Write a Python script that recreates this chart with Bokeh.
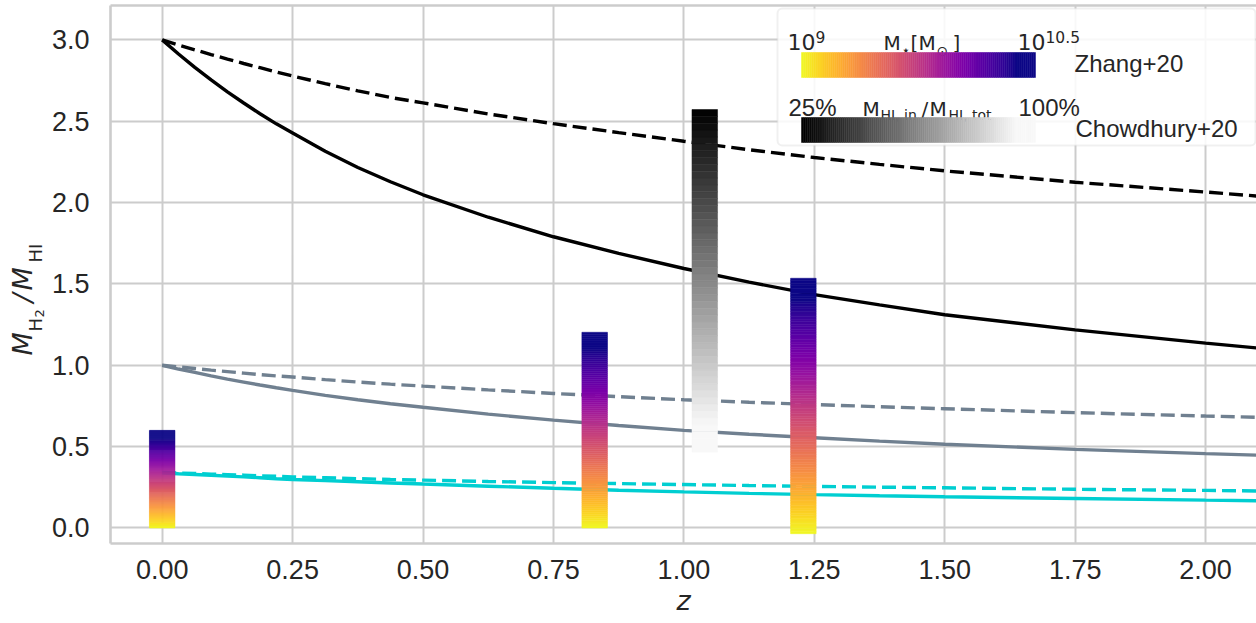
import numpy as np
from bokeh.plotting import figure
from bokeh.layouts import row
from bokeh.models import (Range1d, FixedTicker, CustomJSTickFormatter, LinearAxis,
                          Label, BoxAnnotation)
from bokeh.core.properties import value
from bokeh.palettes import Plasma256
from bokeh.embed import file_html
from bokeh.resources import INLINE

# ---------------- data ----------------
z_grid = [0.0, 0.03125, 0.0625, 0.09375, 0.125, 0.15625, 0.1875, 0.21875, 0.25,
          0.3125, 0.375, 0.4375, 0.5, 0.625, 0.75, 0.875, 1.0, 1.125, 1.25,
          1.375, 1.5, 1.75, 2.0, 2.12]
black_solid = [3.000, 2.913, 2.831, 2.754, 2.681, 2.612, 2.546, 2.484, 2.428,
               2.316, 2.216, 2.128, 2.048, 1.910, 1.790, 1.688, 1.595, 1.511, 1.434,
               1.371, 1.311, 1.218, 1.136, 1.100]
black_dashed = [3.000, 2.969, 2.939, 2.910, 2.882, 2.855, 2.829, 2.803, 2.778,
                2.731, 2.687, 2.646, 2.613, 2.545, 2.485, 2.430, 2.377, 2.325, 2.277,
                2.235, 2.195, 2.125, 2.065, 2.035]
gray_solid = [1.000, 0.977, 0.956, 0.935, 0.915, 0.897, 0.879, 0.862, 0.846,
              0.815, 0.788, 0.764, 0.742, 0.700, 0.663, 0.630, 0.600, 0.576, 0.555,
              0.534, 0.515, 0.483, 0.457, 0.446]
gray_dashed = [1.000, 0.990, 0.980, 0.970, 0.961, 0.952, 0.943, 0.935, 0.928,
               0.912, 0.897, 0.884, 0.872, 0.849, 0.827, 0.807, 0.788, 0.773, 0.759,
               0.745, 0.733, 0.709, 0.688, 0.679]
cyan_solid = [0.338, 0.333, 0.329, 0.324, 0.319, 0.314, 0.309, 0.303, 0.298,
              0.291, 0.284, 0.277, 0.270, 0.257, 0.244, 0.232, 0.222, 0.213, 0.205,
              0.198, 0.192, 0.181, 0.171, 0.167]
cyan_dashed = [0.342, 0.338, 0.335, 0.331, 0.328, 0.325, 0.321, 0.318, 0.314,
               0.309, 0.303, 0.298, 0.294, 0.286, 0.279, 0.273, 0.267, 0.261, 0.256,
               0.251, 0.247, 0.238, 0.231, 0.227]

zhang_z = [0.0, 0.829, 1.229]
zhang_lo = [0.0, 0.0, -0.035]
zhang_hi = [0.60, 1.203, 1.535]
chow_z = [1.040]
chow_lo = [0.466]
chow_hi = [2.572]
bar_w = 0.049

x_ticks = [0.0, 0.25, 0.5, 0.75, 1.0, 1.25, 1.5, 1.75, 2.0]
x_tick_labels = ["0.00", "0.25", "0.50", "0.75", "1.00", "1.25", "1.50", "1.75", "2.00"]
y_ticks = [0.0, 0.5, 1.0, 1.5, 2.0, 2.5, 3.0]
y_tick_labels = ["0.0", "0.5", "1.0", "1.5", "2.0", "2.5", "3.0"]

legend_names = ["Zhang+20", "Chowdhury+20"]
cbar1_ends = ["10", "9", "10", "10.5"]
cbar2_ends = ["25%", "100%"]

# ---------------- layout ----------------
YW = 48                     # width of the y-title strip
PH = 623
FL, FR, FT, FB = 110, 1256, 5, 543   # frame edges in page pixels
X0, X1 = -0.0991, 2.0976
Y0, Y1 = -0.0953, 3.2114
TEXT = "#262626"
GRID = "#cccccc"
MFONT = "DejaVu Sans"
TFONT = "Liberation Sans"
BSHIFT = 0.37   # baseline correction (in em) for text placement


def dx(px):
    return X0 + (px - FL) * (X1 - X0) / (FR - FL)


def dy(py):
    return Y0 + (FB - py) * (Y1 - Y0) / (FB - FT)


p = figure(frame_width=FR - FL, frame_height=FB - FT, output_backend="svg",
           toolbar_location=None,
           x_range=Range1d(X0, X1), y_range=Range1d(Y0, Y1),
           min_border_left=FL - YW, min_border_right=0,
           min_border_top=FT, min_border_bottom=PH - FB)
p.background_fill_color = "white"
p.border_fill_color = "white"
p.outline_line_color = None

for ax in (p.xaxis[0], p.yaxis[0]):
    ax.axis_line_color = GRID
    ax.axis_line_width = 2.6
    ax.major_tick_line_color = None
    ax.minor_tick_line_color = None
    ax.major_tick_out = 0
    ax.major_tick_in = 0
    ax.minor_tick_out = 0
    ax.major_label_text_font = TFONT
    ax.major_label_text_font_size = "27px"
    ax.major_label_text_color = TEXT

p.xaxis.ticker = FixedTicker(ticks=x_ticks)
p.yaxis.ticker = FixedTicker(ticks=y_ticks)
p.xaxis.formatter = CustomJSTickFormatter(args=dict(t=x_ticks, l=x_tick_labels),
    code="const i = t.indexOf(tick); return i >= 0 ? l[i] : tick.toFixed(2);")
p.yaxis.formatter = CustomJSTickFormatter(args=dict(t=y_ticks, l=y_tick_labels),
    code="const i = t.indexOf(tick); return i >= 0 ? l[i] : tick.toFixed(1);")
p.xaxis.major_label_standoff = 16
p.yaxis.major_label_standoff = 21

p.xaxis.axis_label = "z"
p.xaxis.axis_label_text_font = MFONT
p.xaxis.axis_label_text_font_style = "italic"
p.xaxis.axis_label_text_font_size = "27px"
p.xaxis.axis_label_text_color = TEXT
p.xaxis.axis_label_standoff = 3

top_axis = LinearAxis(ticker=FixedTicker(ticks=[]), major_label_text_font_size="0px",
                      major_tick_line_color=None, minor_tick_line_color=None,
                      major_tick_out=0, minor_tick_out=0, major_label_standoff=0,
                      axis_line_color=GRID, axis_line_width=2.6)
p.add_layout(top_axis, "above")

p.xgrid.ticker = FixedTicker(ticks=x_ticks)
p.ygrid.ticker = FixedTicker(ticks=y_ticks)
p.grid.grid_line_color = GRID
p.grid.grid_line_width = 2

# ---------------- lines ----------------
DASH = "14 6"
LW = 3.4
p.line(z_grid, black_solid, line_color="black", line_width=LW)
p.line(z_grid, black_dashed, line_color="black", line_width=LW, line_dash=DASH)
p.line(z_grid, gray_solid, line_color="#708090", line_width=LW)
p.line(z_grid, gray_dashed, line_color="#708090", line_width=LW, line_dash=DASH)
p.line(z_grid, cyan_solid, line_color="#00CED1", line_width=LW)
p.line(z_grid, cyan_dashed, line_color="#00CED1", line_width=LW, line_dash=DASH)


def plasma_at(f):
    # f: 0 -> yellow, 1 -> dark blue ; last 8% flat dark blue
    g = min(f / 0.92, 1.0)
    return Plasma256[int(round(255 * (1 - g)))]


def grey_at(f):
    # f: 0 -> black, 1 -> near white
    g = min(f / 0.92, 1.0)
    v = int(round(248 * g))
    return "#%02x%02x%02x" % (v, v, v)


# Chowdhury bar (black top -> white bottom)
for zc, lo, hi in zip(chow_z, chow_lo, chow_hi):
    n = 50
    edges = np.linspace(lo, hi, n + 1)
    cols = [grey_at(1 - (k + 0.5) / n) for k in range(n)]
    p.quad(left=[zc - bar_w / 2] * n, right=[zc + bar_w / 2] * n,
           bottom=list(edges[:-1]), top=list(edges[1:]),
           fill_color=cols, line_color=cols, line_width=0.5)

# Zhang bars (yellow bottom -> dark blue top)
for zc, lo, hi in zip(zhang_z, zhang_lo, zhang_hi):
    n = 100
    edges = np.linspace(lo, hi, n + 1)
    cols = [plasma_at((k + 0.5) / n) for k in range(n)]
    p.quad(left=[zc - bar_w / 2] * n, right=[zc + bar_w / 2] * n,
           bottom=list(edges[:-1]), top=list(edges[1:]),
           fill_color=cols, line_color=cols, line_width=0.5)

# ---------------- legend ----------------
box = BoxAnnotation(left=dx(777), right=dx(1255), top=dy(8), bottom=dy(145),
                    fill_color="white", fill_alpha=0.85, line_color=GRID,
                    line_width=2, border_radius=5)
p.add_layout(box)

n = 120
ex = np.linspace(dx(801), dx(1035), n + 1)
cols1 = [plasma_at((k + 0.5) / n) for k in range(n)]
r1 = p.quad(left=list(ex[:-1]), right=list(ex[1:]), bottom=[dy(77)] * n, top=[dy(52)] * n,
            fill_color=cols1, line_color=cols1, line_width=0.5)
r1.level = "overlay"
cols2 = [grey_at((k + 0.5) / n) for k in range(n)]
r2 = p.quad(left=list(ex[:-1]), right=list(ex[1:]), bottom=[dy(142)] * n, top=[dy(117)] * n,
            fill_color=cols2, line_color=cols2, line_width=0.5)
r2.level = "overlay"


def lab(txt, px, py, size, font=MFONT, style="normal"):
    p.add_layout(Label(x=dx(px), y=dy(py - BSHIFT * size), text=txt, text_font=font,
                       text_font_size=f"{size}px", text_font_style=style,
                       text_color=TEXT, text_align="left",
                       text_baseline="alphabetic"))


# row 1
lab(cbar1_ends[0], 787, 50, 22)
lab(cbar1_ends[1], 815, 42, 15.5)
lab("M", 883, 50, 20)
lab("\u22c6", 901, 55, 14)
lab("[", 910, 50, 20)
lab("M", 918, 50, 20)
lab("\u2299", 936, 56, 14)
lab("]", 952, 50, 20)
lab(cbar1_ends[2], 1017, 50, 22)
lab(cbar1_ends[3], 1045, 42, 15.5)
lab(legend_names[0], 1074, 72, 24, font=TFONT)
# row 2
lab(cbar2_ends[0], 788, 116, 24, font=TFONT)
lab("M", 862, 116, 20)
lab("HI, in", 880, 120, 14)
lab("/", 921, 116, 20)
lab("M", 929, 116, 20)
lab("HI, tot", 948, 120, 14)
lab(cbar2_ends[1], 1018, 116, 24, font=TFONT)
lab(legend_names[1], 1075, 137, 24, font=TFONT)

# ---------------- y title strip ----------------
yt = figure(frame_width=YW, frame_height=PH, output_backend="svg", toolbar_location=None,
            x_range=Range1d(0, YW), y_range=Range1d(0, PH),
            x_axis_type=None, y_axis_type=None,
            min_border_left=0, min_border_right=0, min_border_top=0, min_border_bottom=0)
yt.outline_line_color = None
yt.background_fill_color = "white"
yt.border_fill_color = "white"
A = np.pi / 2
# (text, baseline x, start y, font px, style) in page pixels
y_title_parts = [("M", 32, 350, 27, "italic"),
                 ("H", 42, 326, 18, "normal"),
                 ("2", 44, 312, 13, "normal"),
                 ("/", 32, 297, 27, "italic"),
                 ("M", 32, 285, 27, "italic"),
                 ("HI", 42, 257, 18, "normal")]
for txt, px, py, fs, st in y_title_parts:
    yt.text(x=[px - BSHIFT * fs], y=[PH - py], text=[txt], angle=A,
            text_font=value(MFONT), text_font_size=value(f"{fs}px"),
            text_font_style=st, text_color=TEXT,
            text_align="left", text_baseline="alphabetic")

layout = row(yt, p)
open("out.html", "w").write(file_html(layout, INLINE))
